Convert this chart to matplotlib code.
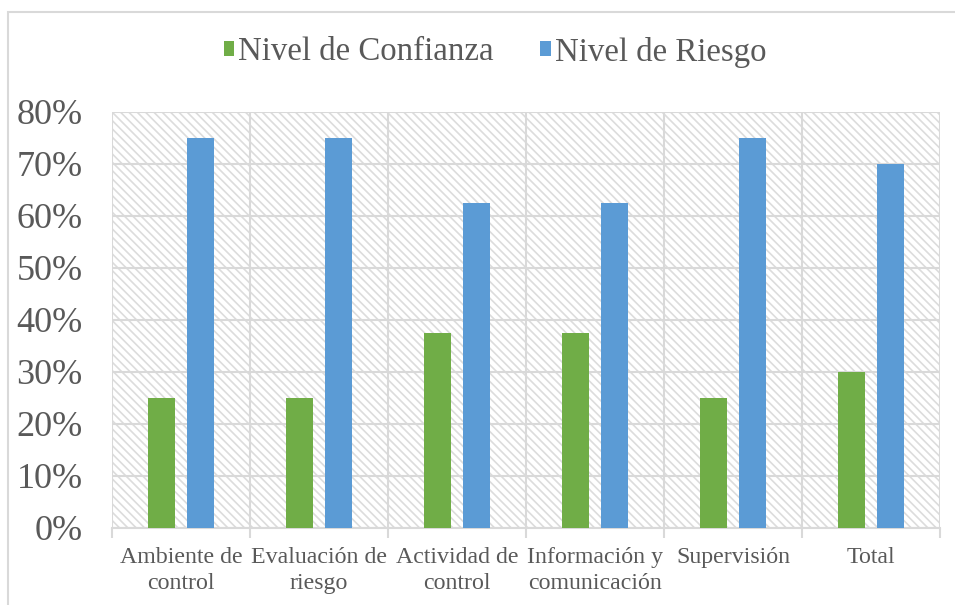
import numpy as np
import matplotlib.pyplot as plt
from matplotlib.patches import Rectangle

categorias = ["Ambiente de\ncontrol", "Evaluación de\nriesgo", "Actividad de\ncontrol",
              "Información y\ncomunicación", "Supervisión", "Total"]
confianza = [25, 25, 37.5, 37.5, 25, 30]
riesgo = [75, 75, 62.5, 62.5, 75, 70]
yticks = [0, 10, 20, 30, 40, 50, 60, 70, 80]

plt.rcParams['font.family'] = ['Liberation Serif', 'DejaVu Serif']
plt.rcParams['hatch.linewidth'] = 1.2
plt.rcParams['hatch.color'] = '#dcdcdc'
gris = '#595959'
linea = '#d9d9d9'

fig = plt.figure(figsize=(9.55, 6.05), dpi=100)
# borde del area del grafico
fig.patches.append(Rectangle((8/955, -0.1), 1.2, 1 - 12/605 + 0.1, transform=fig.transFigure,
                             facecolor='none', edgecolor=linea, linewidth=1.5))

ax = fig.add_axes([112/955, 1 - 528/605, 828/955, 416/605])
ax.add_patch(Rectangle((0, 0), 1, 1, transform=ax.transAxes, facecolor='white',
                       edgecolor='#dcdcdc', hatch='\\\\\\\\', linewidth=0, zorder=0))

x = np.arange(len(categorias))
w = 0.2
ax.bar(x - 0.14, confianza, w, color='#70AD47', label='Nivel de Confianza', zorder=3)
ax.bar(x + 0.14, riesgo, w, color='#5B9BD5', label='Nivel de Riesgo', zorder=3)

ax.set_xlim(-0.5, len(categorias) - 0.5)
ax.set_ylim(0, 80)
ax.set_yticks(yticks)
ax.set_yticklabels([f"{v}%" for v in yticks])
ax.tick_params(axis='y', length=0, pad=21, labelsize=26, labelcolor=gris)

ax.set_xticks(np.arange(len(categorias) + 1) - 0.5)
ax.set_xticklabels([])
ax.set_xticks(x, minor=True)
ax.set_xticklabels(categorias, minor=True)
ax.tick_params(axis='x', which='major', length=7, color=linea, width=1.5)
ax.tick_params(axis='x', which='minor', length=0, pad=14, labelsize=17.2, labelcolor=gris)
for t in ax.get_xticklabels(minor=True):
    t.set_linespacing(1.3)

ax.grid(True, which='major', color=linea, linewidth=1.5, zorder=1)
ax.set_axisbelow(True)
for s in ['top', 'right', 'left']:
    ax.spines[s].set_visible(False)
ax.spines['bottom'].set_color(linea)
ax.spines['bottom'].set_linewidth(1.5)

fig.legend(loc='center', bbox_to_anchor=(495/955, 1 - 52/605), ncol=2, frameon=False,
           fontsize=23.7, labelcolor=gris, handlelength=0.33, handleheight=0.33,
           handletextpad=0.12, columnspacing=1.4)

fig.savefig('out.png', dpi=100)
